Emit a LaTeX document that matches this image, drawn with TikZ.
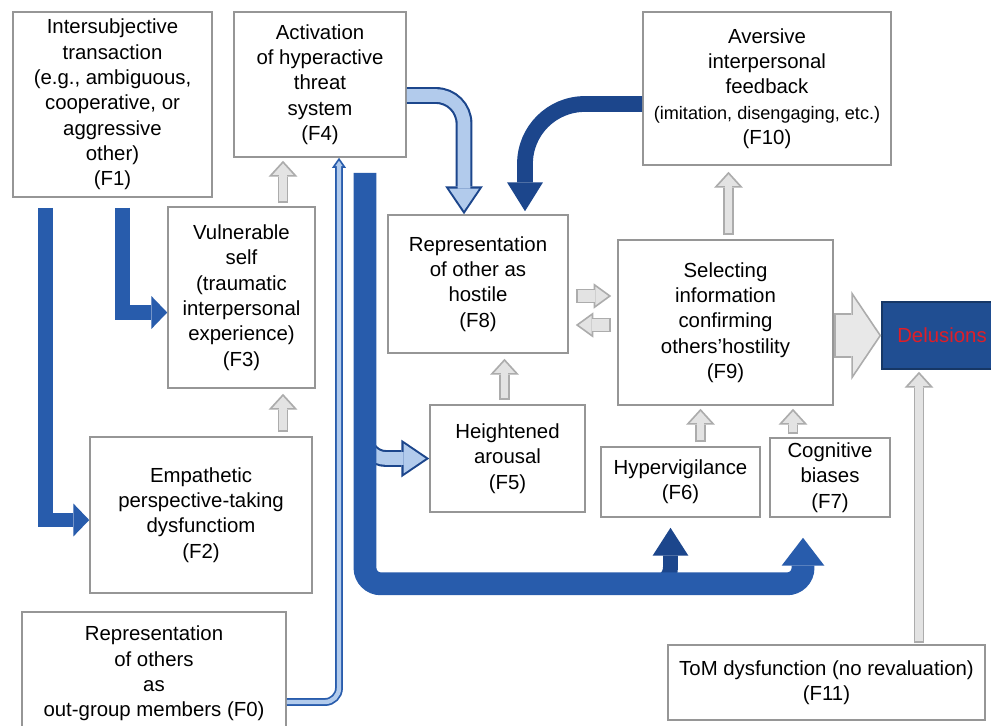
\documentclass[tikz,border=0pt]{standalone}
\usepackage{fontspec}
\setmainfont{Liberation Sans}
\usetikzlibrary{arrows.meta,positioning,calc}

\definecolor{barblue}{RGB}{40,92,172}
\definecolor{deepblue}{RGB}{28,70,140}
\definecolor{paleblue}{RGB}{178,203,236}
\definecolor{delublue}{RGB}{32,78,146}
\definecolor{boxgray}{RGB}{150,150,150}
\definecolor{delured}{RGB}{222,30,40}

\begin{document}
\begin{tikzpicture}[x=0.02cm, y=-0.02cm,
    box/.style={rectangle, draw=boxgray, line width=0.9pt, fill=white, align=center, inner sep=2pt, font=\fontsize{11.6}{14.4}\selectfont},
    grayarrow/.style={draw=gray!22, line width=4.2pt, -{Triangle[width=11.8pt,length=6.5pt,line width=0pt]}, shorten >=1.5pt, shorten <=1pt,
        preaction={draw=gray!65, line width=6.2pt, -{Triangle[width=16.4pt,length=9pt,line width=0pt]}, shorten >=0pt, shorten <=0pt}},
    swaparrow/.style={draw=gray!22, line width=6.5pt, -{Triangle[width=10.6pt,length=7.3pt,line width=0pt]}, shorten >=1.7pt, shorten <=1pt,
        preaction={draw=gray!65, line width=8.5pt, -{Triangle[width=14.5pt,length=10pt,line width=0pt]}, shorten >=0pt, shorten <=0pt}},
    biggray/.style={draw=gray!18, line width=23.5pt, -{Triangle[width=44pt,length=14.8pt,line width=0pt]}, shorten >=1.2pt, shorten <=1pt,
        preaction={draw=gray!65, line width=25.5pt, -{Triangle[width=50.5pt,length=17pt,line width=0pt]}, shorten >=0pt, shorten <=0pt}},
    bluearrow/.style={draw=barblue, line width=8.5pt, -{Triangle[width=18.7pt,length=9pt,line width=0pt]}},
    deeparrow/.style={draw=deepblue, line width=9pt, -{Triangle[width=20.4pt,length=16.4pt,line width=0pt]}},
    bigarrow/.style={draw=barblue, line width=13pt, -{Triangle[width=24.4pt,length=15.9pt,line width=0pt]}},
    branch/.style={draw=deepblue, line width=8.5pt, -{Triangle[width=20.4pt,length=15.9pt,line width=0pt]}},
    lightarrow/.style={draw=paleblue, line width=7.2pt, -{Triangle[width=17pt,length=12.5pt,line width=0pt]}, shorten >=2.1pt,
        preaction={draw=deepblue, line width=9.6pt, -{Triangle[width=21.5pt,length=15.9pt,line width=0pt]}, shorten >=0pt}},
    thinarrow/.style={draw=paleblue, line width=2.5pt, -{Triangle[width=4.1pt,length=3pt,line width=0pt]}, shorten >=1.7pt,
        preaction={draw=barblue, line width=4.5pt, -{Triangle[width=8pt,length=5.7pt,line width=0pt]}, shorten >=0pt}}]

    \useasboundingbox (0,0) rectangle (991,725);
    \fill[white] (0,0) rectangle (991,725);

    % Factors
    \node[box, minimum width=3.98cm, minimum height=3.7cm] (f1) at (112.5,104.5) {Intersubjective\\transaction\\(e.g., ambiguous,\\cooperative, or\\aggressive\\other)\\(F1)};
    \node[box, minimum width=3.44cm, minimum height=2.9cm] (f4) at (320,84.5) {Activation\\of hyperactive\\threat\\system\\(F4)};
    \node[box, minimum width=2.94cm, minimum height=3.62cm] (f3) at (241.5,297.5) {Vulnerable\\self\\(traumatic\\interpersonal\\experience)\\(F3)};
    \node[box, minimum width=4.44cm, minimum height=3.12cm] (f2) at (201,515) {Empathetic\\perspective-taking\\dysfunctiom\\(F2)};
    \node[box, minimum width=5.28cm, minimum height=2.46cm] (f0) at (154,673.5) {Representation\\of others\\as\\out-group members (F0)};
    \node[box, minimum width=4.96cm, minimum height=3.06cm] (f10) at (767,88.5) {Aversive\\interpersonal\\feedback\\{\fontsize{10.3}{14.4}\selectfont (imitation, disengaging, etc.)}\\(F10)};
    \node[box, minimum width=3.6cm, minimum height=2.76cm] (f8) at (478,284) {Representation\\of other as\\hostile\\(F8)};
    \node[box, minimum width=4.3cm, minimum height=3.3cm] (f9) at (725.5,322.5) {Selecting\\information\\confirming\\others’hostility\\(F9)};
    \node[box, minimum width=3.1cm, minimum height=2.14cm] (f5) at (507.5,458.5) {Heightened\\arousal\\(F5)};
    \node[box, minimum width=3.18cm, minimum height=1.4cm] (f6) at (680.5,482) {Hypervigilance\\(F6)};
    \node[box, minimum width=2.4cm, minimum height=1.58cm] (f7) at (830,477.5) {Cognitive\\biases\\(F7)};
    \node[box, minimum width=6.34cm, minimum height=1.5cm] (f11) at (826.5,682.5) {ToM dysfunction (no revaluation)\\(F11)};
    \node[box, draw=delublue!70!black, fill=delublue, text=delured, minimum width=2.4cm, minimum height=1.34cm] (dl) at (942,335.5) {Delusions};

    % Blue arrows from F1
    \draw[bluearrow] ($(f1.south)+(-67,10)$) |- ($(f2.west)+(0,5)$);
    \draw[bluearrow] ($(f1.south)+(10,10)$) |- ($(f3.west)+(0,15)$);

    % Gray arrows
    \draw[grayarrow] ($(f3.north)+(41.5,-3)$) -- ($(f3.north |- f4.south)+(41.5,3)$);
    \draw[grayarrow] ($(f2.north)+(82,-4)$) -- ($(f2.north |- f3.south)+(82,5)$);
    \draw[grayarrow] ($(f5.north)+(-3,-4)$) -- ($(f5.north |- f8.south)+(-3,5)$);
    \draw[grayarrow] ($(f6.north)+(20,-4)$) -- ($(f6.north |- f9.south)+(20,3)$);
    \draw[grayarrow] ($(f7.north)+(-37,-3)$) -- ($(f7.north |- f9.south)+(-37,3)$);
    \draw[grayarrow] ($(f9.north)+(3,-4)$) -- ($(f9.north |- f10.south)+(3,6)$);
    \draw[grayarrow] ($(f11.north)+(92.5,-1)$) -- ($(f11.north |- dl.south)+(92.5,2)$);
    \draw[swaparrow] ($(f8.east)+(7,12)$) -- ($(f8.east -| f9.west)+(-6,12)$);
    \draw[swaparrow] ($(f9.west)+(-6,2.5)$) -- ($(f9.west -| f8.east)+(7,2.5)$);
    \draw[biggray] (f9.east |- dl.west) -- (dl.west);

    % Curved arrows into F8
    \draw[lightarrow, rounded corners=16pt] ($(f4.east)+(0,11)$) -| ($(f8.north)+(-14,0)$);
    \draw[deeparrow, rounded corners=34pt] ($(f10.west)+(0,15.5)$) -| ($(f8.north)+(47,-3)$);

    % F0 to F4
    \draw[thinarrow, rounded corners=8pt] ($(f0.east)+(0,28.5)$) -| ($(f4.south)+(19,0)$);

    % Main flow from F4
    \coordinate (tap) at (365,420);
    \coordinate (fork) at (630,583);
    \draw[lightarrow, rounded corners=12pt] (tap) |- (f5.west);
    \draw[branch, rounded corners=9pt] (fork) -| ($(f6.south)+(-10,10)$);
    \draw[bigarrow, rounded corners=9pt] ($(f4.south)+(45,15)$) -- ++(0,411) -| ($(f7.south)+(-27,20)$);
\end{tikzpicture}
\end{document}
